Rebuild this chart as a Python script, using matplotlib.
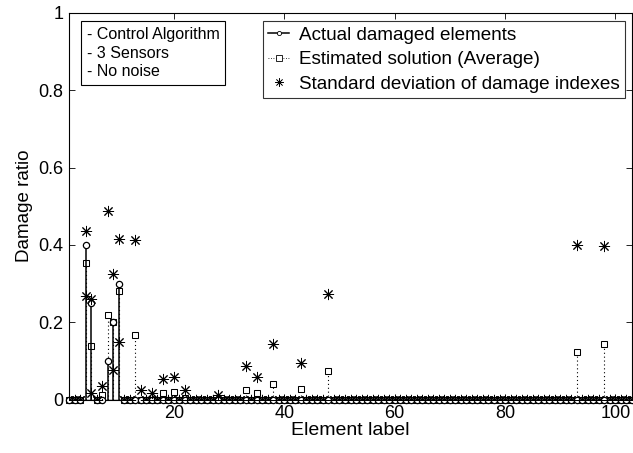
import numpy as np
import matplotlib
matplotlib.use("Agg")
import matplotlib.pyplot as plt
from matplotlib.lines import Line2D
from matplotlib.legend_handler import HandlerLine2D

plt.rcParams['font.family'] = ['Liberation Sans', 'DejaVu Sans']

n_elements = 103
elements = np.arange(1, n_elements + 1)

# actual damaged elements (element label -> damage ratio)
actual_ids = [4, 5, 8, 9, 10]
actual_vals = [0.40, 0.25, 0.10, 0.20, 0.30]

# estimated solution (average) for non-zero elements
est_ids = [4, 5, 7, 8, 9, 10, 13, 18, 20, 22, 33, 35, 38, 43, 48, 93, 98]
est_vals = [0.352, 0.139, 0.012, 0.219, 0.200, 0.281, 0.167, 0.017, 0.019, 0.005,
            0.024, 0.018, 0.039, 0.026, 0.073, 0.124, 0.143]

# standard deviation of damage indexes for non-zero elements
std_ids = [4, 5, 7, 8, 9, 10, 13, 14, 16, 18, 20, 22, 28, 33, 35, 38, 43, 48, 93, 98]
std_vals = [0.085, 0.122, 0.024, 0.268, 0.124, 0.133, 0.246, 0.025, 0.017, 0.036,
            0.040, 0.020, 0.012, 0.063, 0.041, 0.105, 0.069, 0.199, 0.276, 0.254]

actual = np.zeros(n_elements)
actual[np.array(actual_ids) - 1] = actual_vals
est = np.zeros(n_elements)
est[np.array(est_ids) - 1] = est_vals
std = np.zeros(n_elements)
std[np.array(std_ids) - 1] = std_vals


class EndMarkerHandler(HandlerLine2D):
    def get_xdata(self, legend, xdescent, ydescent, width, height, fontsize):
        xdata = np.array([-xdescent, -xdescent + width])
        return xdata, np.array([-xdescent + width])


fig = plt.figure(figsize=(6.33, 4.53), dpi=100)
W, H = 633, 453
left_px, right_px, top_px, bottom_px = 69, 632, 13, 399.5
ax = fig.add_axes([left_px / W, 1 - bottom_px / H, (right_px - left_px) / W, (bottom_px - top_px) / H])
ax_h = bottom_px - top_px
ax_w = right_px - left_px

# estimated stems (dotted)
ax.vlines(elements, 0, est, colors='black', linestyles=(0, (1, 2.5)), linewidth=0.8, zorder=2)
ax.plot(elements, est, linestyle='none', marker='s', markersize=5, markerfacecolor='white',
        markeredgecolor='black', markeredgewidth=0.75, clip_on=False, zorder=3)
# actual stems (solid)
ax.vlines(elements, 0, actual, colors='black', linewidth=1.1, zorder=4)
ax.plot(elements, actual, linestyle='none', marker='o', markersize=4.5, markerfacecolor='white',
        markeredgecolor='black', markeredgewidth=0.9, clip_on=False, zorder=5)
# std markers at mean +/- std
star = (8, 2, 0)
ax.plot(elements, est + std, linestyle='none', marker=star, markersize=8, color='black',
        markeredgewidth=0.7, zorder=6)
ax.plot(elements, est - std, linestyle='none', marker=star, markersize=8, color='black',
        markeredgewidth=0.7, zorder=6)
ax.axhline(0, color='black', linewidth=1.0, zorder=1)

ax.set_xlim(1, 103)
ax.set_ylim(0, 1)
ax.set_xticks([20, 40, 60, 80, 100])
ax.set_yticks([0, 0.2, 0.4, 0.6, 0.8, 1])
ax.set_yticklabels(['0', '0.2', '0.4', '0.6', '0.8', '1'])
ax.tick_params(direction='in', length=4, width=0.6, top=True, right=True, labelsize=13, pad=4)
for s in ax.spines.values():
    s.set_linewidth(0.8)
ax.set_xlabel('Element label', fontsize=14, labelpad=0)
ax.set_ylabel('Damage ratio', fontsize=13.5, labelpad=4)

handles = [
    Line2D([0], [0], color='black', linewidth=1.1, marker='o', markersize=3, markerfacecolor='white',
           markeredgewidth=0.6),
    Line2D([0], [0], color='black', linestyle=(0, (1, 2)), linewidth=0.6, marker='s', markersize=4,
           markerfacecolor='white', markeredgewidth=0.6),
    Line2D([0], [0], linestyle='none', marker=star, markersize=6, color='black', markeredgewidth=0.5),
]
labels = ['Actual damaged elements', 'Estimated solution (Average)', 'Standard deviation of damage indexes']
leg = ax.legend(handles, labels, loc='upper right',
                bbox_to_anchor=((625 - left_px) / ax_w, 1 - (21 - top_px) / ax_h),
                fontsize=13.6, frameon=True, fancybox=False, edgecolor='black', borderpad=0.3,
                handlelength=1.1, handletextpad=0.5, labelspacing=0.38, borderaxespad=0,
                handler_map={Line2D: EndMarkerHandler()})
leg.get_frame().set_linewidth(0.8)

ax.text((87 - left_px) / ax_w, 1 - (27 - top_px) / ax_h, '- Control Algorithm\n- 3 Sensors\n- No noise',
        transform=ax.transAxes, fontsize=11.5, va='top', ha='left', linespacing=1.3,
        bbox=dict(boxstyle='square,pad=0.35', facecolor='white', edgecolor='black', linewidth=0.8))

fig.savefig('out.png', dpi=100)
